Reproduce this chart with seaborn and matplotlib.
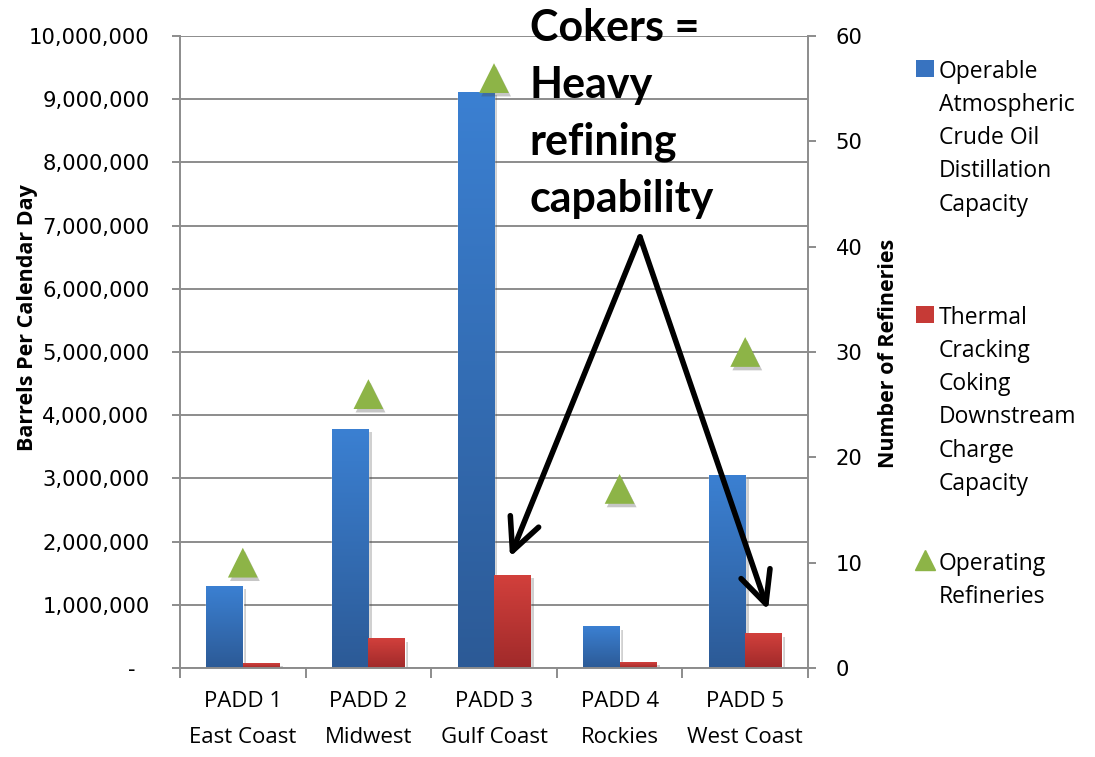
import numpy as np
import pandas as pd
import matplotlib
matplotlib.use("Agg")
import matplotlib.pyplot as plt
import seaborn as sns
import matplotlib.patheffects as pe
from matplotlib.patches import Patch
from matplotlib.lines import Line2D
from matplotlib.colors import LinearSegmentedColormap
from matplotlib.ticker import FuncFormatter

# ---- data ----
regions = ["PADD 1\nEast Coast", "PADD 2\nMidwest", "PADD 3\nGulf Coast",
           "PADD 4\nRockies", "PADD 5\nWest Coast"]
distillation = [1297000, 3780000, 9110000, 650000, 3040000]
coking = [70000, 460000, 1470000, 90000, 540000]
refineries = [10, 26, 56, 17, 30]

dist_label = "Operable\nAtmospheric\nCrude Oil\nDistillation\nCapacity"
coke_label = "Thermal\nCracking\nCoking\nDownstream\nCharge\nCapacity"
ref_label = "Operating\nRefineries"

df = pd.DataFrame({
    "region": regions * 2,
    "bpd": distillation + coking,
    "series": [dist_label] * len(regions) + [coke_label] * len(regions),
})
ref_df = pd.DataFrame({"region": regions, "count": refineries})

# ---- style ----
BLUE, BLUE_TOP, BLUE_BOT = "#3873c0", "#3b80d2", "#2c5a96"
RED, RED_TOP, RED_BOT = "#c63a36", "#d2403c", "#a02a2a"
GREEN = "#8db447"
GRAY = "#8c8c8c"

sns.set_theme(style="white")
plt.rcParams["font.family"] = ["Open Sans", "DejaVu Sans"]
plt.rcParams["text.color"] = "black"
plt.rcParams["axes.labelcolor"] = "black"

fig = plt.figure(figsize=(10.95, 7.57), dpi=100)
ax = fig.add_axes([0.1644, 0.1176, 0.5735, 0.8349])

sns.barplot(data=df, x="region", y="bpd", hue="series",
            palette=[BLUE, RED], width=0.58, gap=0, saturation=1,
            errorbar=None, legend=False, ax=ax, zorder=2)

# vertical gradient on each bar
grad = np.linspace(0, 1, 256).reshape(-1, 1)
cmaps = {
    "blue": LinearSegmentedColormap.from_list("b", [BLUE_BOT, BLUE_TOP]),
    "red": LinearSegmentedColormap.from_list("r", [RED_BOT, RED_TOP]),
}
for bar in ax.patches:
    fc = bar.get_facecolor()
    key = "blue" if fc[2] > fc[0] else "red"
    x0, y0 = bar.get_x(), bar.get_y()
    w, h = bar.get_width(), bar.get_height()
    bar.set_path_effects([pe.SimplePatchShadow(offset=(2.5, -2), shadow_rgbFace="#444444",
                                               alpha=0.25), pe.Normal()])
    ax.imshow(grad, cmap=cmaps[key], extent=[x0, x0 + w, y0, y0 + h],
              origin="lower", aspect="auto", zorder=2.5, interpolation="bicubic")

ax.set_xlim(-0.5, len(regions) - 0.5)
ax.set_ylim(0, 10000000)
ax.set_yticks(np.arange(0, 10000001, 1000000))
ax.yaxis.set_major_formatter(FuncFormatter(lambda v, p: "-  " if v == 0 else f"{int(v):,}"))
ax.set_axisbelow(True)
ax.yaxis.grid(True, color=GRAY, lw=1.4)
ax.xaxis.grid(False)

ax.set_xticks(range(len(regions)))
ax.set_xticklabels(regions, linespacing=1.95)
ax.set_xticks(np.arange(-0.5, len(regions), 1), minor=True)
ax.tick_params(axis="x", which="major", length=0, pad=16.5, labelsize=16, labelcolor="black")
ax.tick_params(axis="x", which="minor", length=7, width=1.4, color=GRAY, direction="out", bottom=True)
ax.tick_params(axis="y", length=6, width=1.4, color=GRAY, direction="out", left=True,
               pad=16, labelsize=15.2, labelfontfamily="DejaVu Sans", labelcolor="black")
ax.set_xlabel("")
ax.set_ylabel("Barrels Per Calendar Day", fontsize=15.5, fontweight="bold", color="black")
ax.yaxis.set_label_coords(-0.226, 0.554)
for side in ["top", "right"]:
    ax.spines[side].set_visible(False)
for side in ["left", "bottom"]:
    ax.spines[side].set_color(GRAY)
    ax.spines[side].set_linewidth(1.4)

# secondary axis: number of refineries
ax2 = ax.twinx()
sns.scatterplot(data=ref_df, x="region", y="count", marker="^", s=460,
                color=GREEN, edgecolor="none", legend=False, ax=ax2, zorder=5)
for coll in ax2.collections:
    coll.set_path_effects([pe.SimplePatchShadow(offset=(1.5, -2.5), shadow_rgbFace="#444444",
                                                alpha=0.3), pe.Normal()])
ax2.set_xlim(-0.5, len(regions) - 0.5)
ax2.set_ylim(0, 60)
ax2.set_yticks(np.arange(0, 61, 10))
ax2.tick_params(axis="y", length=6, width=1.4, color=GRAY, direction="out", right=True,
                pad=14, labelsize=15.2, labelfontfamily="DejaVu Sans", labelcolor="black")
ax2.set_ylabel("Number of Refineries", fontsize=15.5, fontweight="bold", color="black")
ax2.yaxis.set_label_coords(1.112, 0.498)
for side in ["top", "left", "bottom"]:
    ax2.spines[side].set_visible(False)
ax2.spines["right"].set_color(GRAY)
ax2.spines["right"].set_linewidth(1.4)

# call-out text and arrows
ax2.text(0.557, 1.045, "Cokers =\nHeavy\nrefining\ncapability", transform=ax2.transAxes,
         ha="left", va="top", fontsize=31, fontweight="bold", family=["Lato", "DejaVu Sans"],
         color="black", linespacing=1.52, clip_on=False, zorder=6)
start = (0.7325, 0.682)
for end in [(0.5255, 0.1756), (0.9363, 0.0918)]:
    ax2.annotate("", xy=end, xytext=start, xycoords="axes fraction", textcoords="axes fraction",
                 arrowprops=dict(arrowstyle="->,head_length=1.15,head_width=0.55", lw=4,
                                 color="black", shrinkA=0, shrinkB=0, mutation_scale=20),
                 zorder=6)

# legend: three separate entries, handle on the first text line
entries = [
    (Patch(facecolor=BLUE, edgecolor="none"), dist_label, 0.936),
    (Patch(facecolor=RED, edgecolor="none"), coke_label, 0.611),
    (Line2D([], [], marker="^", ls="none", color=GREEN, markersize=15), ref_label, 0.286),
]
for handle, label, ytop in entries:
    leg = fig.legend([handle], [label], loc="upper left", bbox_to_anchor=(0.826, ytop),
                     frameon=False, fontsize=16.5, borderpad=0, handlelength=0.8,
                     handleheight=0.8, handletextpad=0.2)
    for t in leg.get_texts():
        t.set_linespacing(1.51)
        t.set_color("black")
    for col in leg._legend_handle_box.get_children():
        for item in col.get_children():
            item.align = "top"

fig.savefig("out.png", dpi=100)
